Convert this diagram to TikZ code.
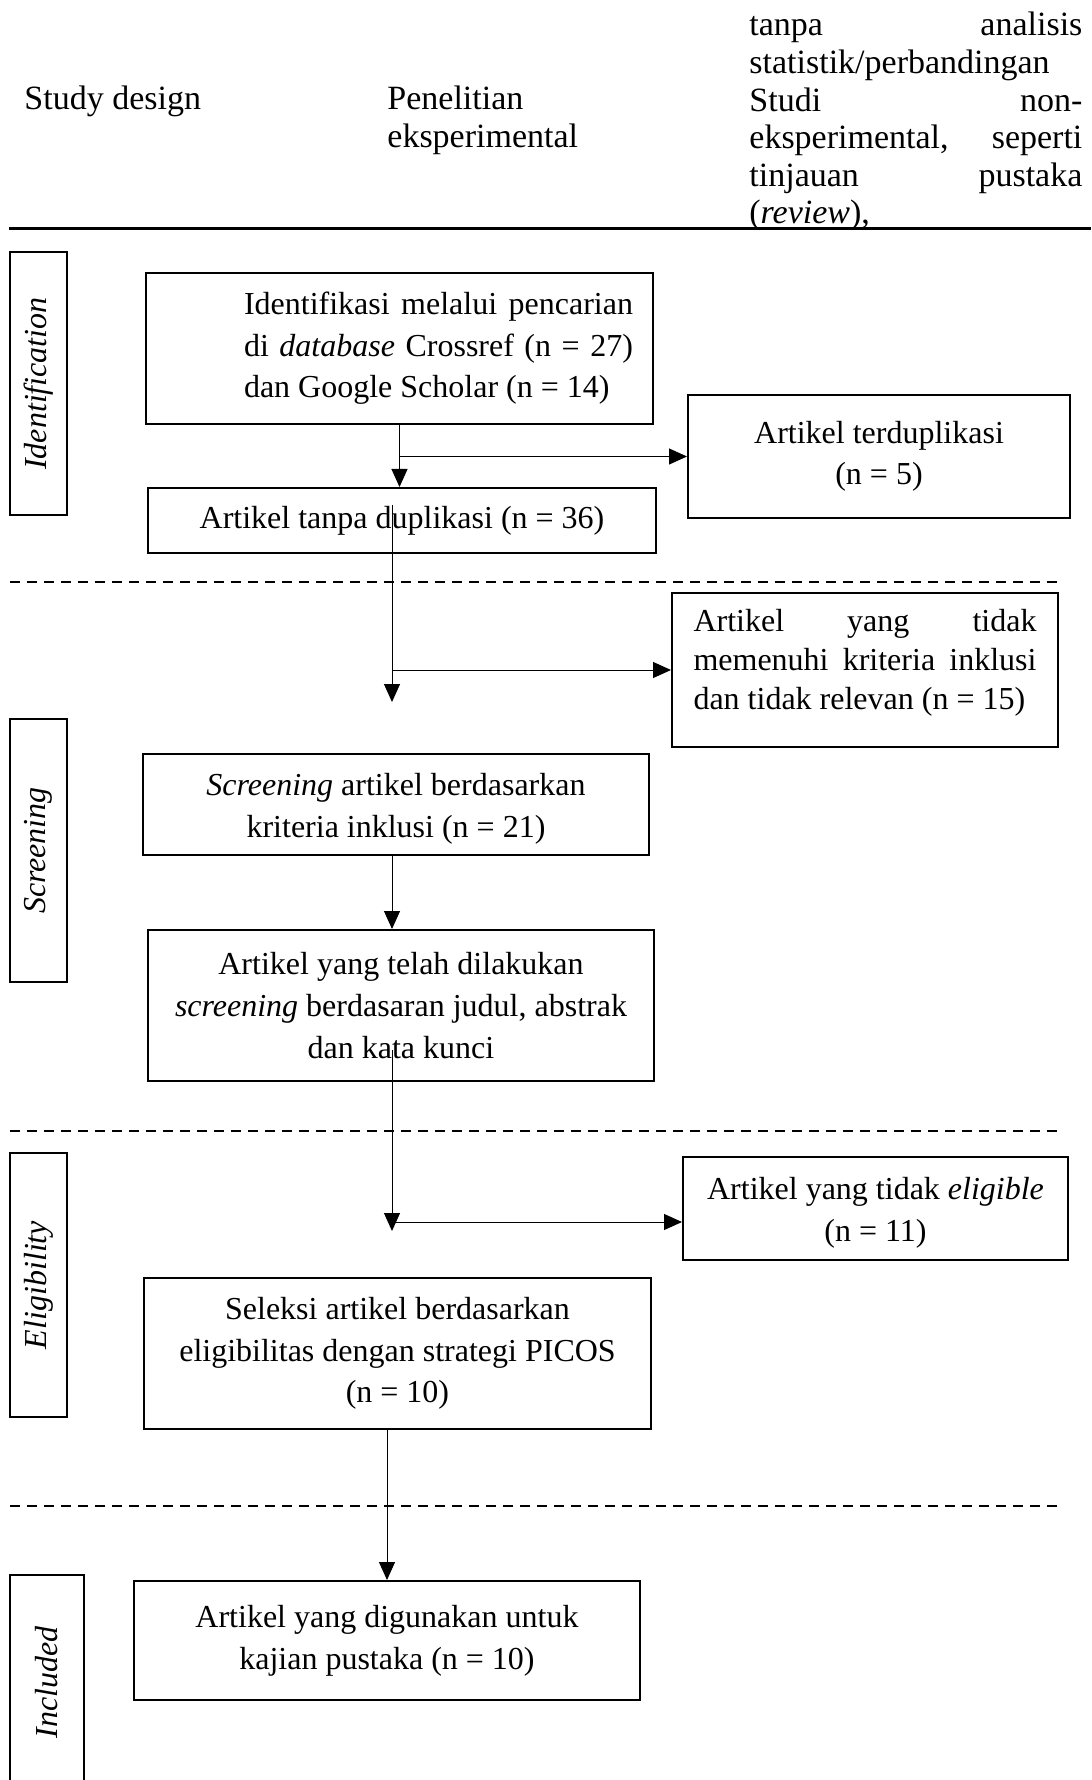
\documentclass[tikz,border=0pt]{standalone}
\usepackage{fontspec}
\setmainfont{Liberation Serif}
\usetikzlibrary{arrows.meta}
\tikzset{
  stage/.style = {draw=black, line width=1pt, align=center, inner sep=0pt, font=\fontsize{16}{20.8}\selectfont},
  phase/.style = {draw=black, line width=1.2pt, inner sep=0pt, rotate=90, font=\fontsize{16}{20}\selectfont\itshape},
  head/.style = {inner sep=0pt, align=flush left, font=\fontsize{17}{18.8}\selectfont},
  flow/.style = {line width=0.5pt, -{Triangle[length=9pt,width=8pt]}},
  split/.style = {line width=1pt, dash pattern=on 5pt off 3.5pt},
}

\begin{document}
\begin{tikzpicture}[x=0.5pt, y={(0pt,-0.5pt)}]
  \useasboundingbox (0,0) rectangle (1091,1780);
  \clip (0,0) rectangle (1091,1780);

  % table header
  \node [head, anchor=base west, text width=120pt] (design) at (24,110) {Study design};
  \node [head, anchor=base west, text width=120pt] (exper) at (387,110) {Penelitian\\eksperimental};
  \node [head, anchor=base west, text width=166.5pt] (nonexp) at (749,36)
    {tanpa\hfill analisis\\
     statistik/perbandingan\\
     Studi\hfill non-\\
     eksperimental,\hfill seperti\\
     tinjauan\hfill pustaka\\
     (\emph{review}),};
  \draw [line width=1.5pt] (9,229) -- (1091,229);

  % phases
  \node [phase, minimum width=131.5pt, minimum height=28.5pt] (labident) at (38.5,383.5) {Identification};
  \node [phase, minimum width=131.5pt, minimum height=28.5pt] (labscreen) at (38.5,850.5) {Screening};
  \node [phase, minimum width=132pt, minimum height=28.5pt] (labelig) at (38.5,1285) {Eligibility};
  \node [phase, minimum width=107.5pt, minimum height=37pt] (labincl) at (47,1682.5) {Included};

  \draw [split] (10,582) -- (1061,582);
  \draw [split] (10,1131) -- (1061,1131);
  \draw [split] (10,1506) -- (1061,1506);

  % boxes
  \node [stage, minimum width=253.5pt, minimum height=75.5pt] (ident) at (399.5,348.5)
    {\hspace*{39pt}\parbox{194.5pt}{Identifikasi\hfill melalui\hfill pencarian\\
     di\hfill \emph{database}\hfill Crossref\hfill (n\hfill =\hfill 27)\\
     dan Google Scholar (n = 14)}};
  \node [stage, minimum width=191pt, minimum height=61.5pt] (dup) at (879,456.5)
    {Artikel terduplikasi\\(n = 5)};
  \node [stage, minimum width=254pt, minimum height=32.5pt] (nodup) at (402,520.5)
    {Artikel tanpa duplikasi (n = 36)};
  \node [stage, minimum width=193pt, minimum height=77pt] (excl) at (865,670)
    {\parbox{171.5pt}{\fontsize{16}{19.5}\selectfont Artikel\hfill yang\hfill tidak\\
     memenuhi\hfill kriteria\hfill inklusi\\
     dan tidak relevan (n = 15)\par\vspace{7pt}}};
  \node [stage, minimum width=253pt, minimum height=50.5pt] (screen) at (396,804.5)
    {\rule{0pt}{15.5pt}\emph{Screening} artikel berdasarkan\\kriteria inklusi (n = 21)};
  \node [stage, minimum width=253pt, minimum height=75.5pt] (screened) at (401,1005.5)
    {Artikel yang telah dilakukan\\\emph{screening} berdasaran judul, abstrak\\dan kata kunci};
  \node [stage, minimum width=192.5pt, minimum height=51.5pt] (inelig) at (875.5,1208.5)
    {\rule{0pt}{15.5pt}Artikel yang tidak \emph{eligible}\\(n = 11)};
  \node [stage, minimum width=253.5pt, minimum height=75.5pt] (picos) at (397.5,1353.5)
    {Seleksi artikel berdasarkan\\eligibilitas dengan strategi PICOS\\(n = 10)};
  \node [stage, minimum width=253pt, minimum height=59.5pt] (incl) at (387,1640.5)
    {Artikel yang digunakan untuk\\kajian pustaka (n = 10)};

  % connectors
  \coordinate (from1) at (392,505);
  \coordinate (to1) at (392,702);
  \coordinate (from2) at (392,1050);
  \coordinate (to2) at (392,1231);
  \coordinate (fork2) at (392,1222);

  \draw [flow] (ident.south) -- (ident.south |- nodup.north);
  \draw [flow] (ident.south |- dup.west) -- (dup.west);
  \draw [flow] (from1) -- (to1);
  \draw [flow] (from1 |- excl.west) -- (excl.west);
  \draw [flow] (screen.south -| from1) -- (screened.north -| from1);
  \draw [flow] (from2) -- (to2);
  \draw [flow] (fork2) -- (fork2 -| inelig.west);
  \draw [flow] (picos.south -| incl.north) -- (incl.north);
\end{tikzpicture}
\end{document}
